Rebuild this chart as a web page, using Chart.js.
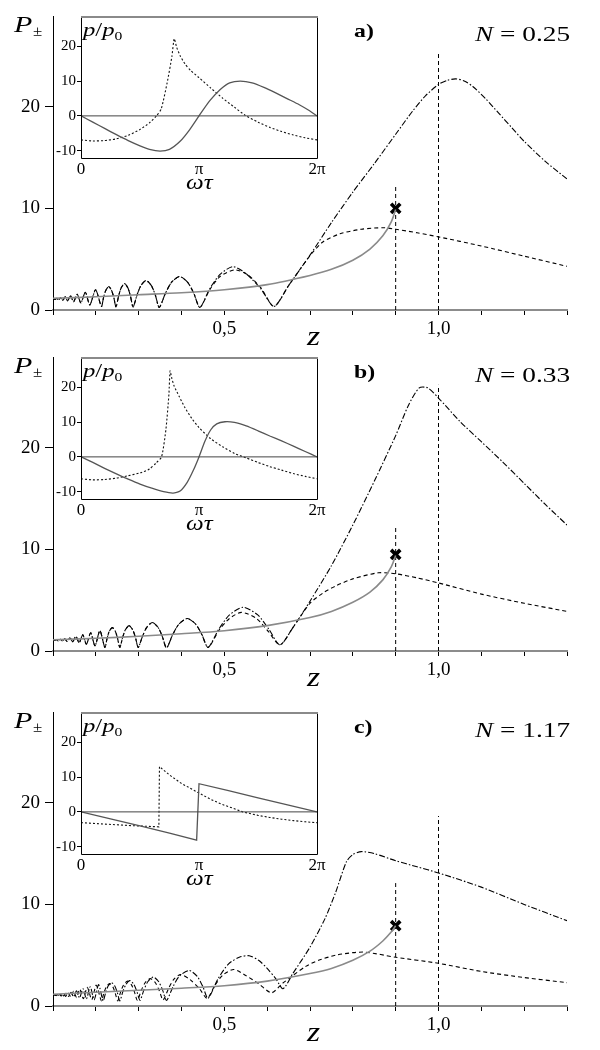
<!DOCTYPE html>
<html><head><meta charset="utf-8">
<script src="https://cdn.jsdelivr.net/npm/chart.js@4.4.1/dist/chart.umd.min.js"></script>
<style>
html,body{margin:0;padding:0;background:#fff;}
#root{position:relative;width:600px;height:1050px;overflow:hidden;background:#fff;}
canvas{position:absolute;}
.lab{position:absolute;color:#000;white-space:nowrap;line-height:1;transform-origin:0 0;}
</style></head><body><div id="root"></div>
<script>
// ---------- axis ticks ----------
const X_TICKS=[0.1,0.2,0.3,0.4,0.5,0.6,0.7,0.8,0.9,1.0,1.1,1.2,1.3];
const X_TICK_TEXT=['','','','','0,5','','','','','1,0','','',''];
const Y_TICKS=[0,10,20];
const Y_TICK_TEXT=['0','10','20'];
const INSET_X_TICKS=[0,1,2];
const INSET_X_TEXT=['0','π','2π'];
const INSET_Y_TICKS=[-10,0,10,20];
const INSET_Y_TEXT=['-10','0','10','20'];
const PANEL_LABELS=['a)','b)','c)'];
const N_VALUES=['0.25','0.33','1.17'];
const CROSS_Z=0.9;
const CROSS_P=[10.0,9.5,7.9];
const V_LINE_Z=[0.9,1.0];
const V_LINE_TOP_A=[12.2,25.2];
const V_LINE_TOP_B=[12.2,26.2];
const V_LINE_TOP_C=[12.1,18.7];

// ---------- panel a (N = 0.25) ----------
const A_DD_Z=[0.100,0.105,0.109,0.113,0.118,0.123,0.1285,0.134,0.141,0.148,0.1565,0.165,0.1755,0.186,0.1995,0.213,
 0.2181,0.2232,0.230,0.2368,0.2419,0.247, 0.253,0.259,0.267,0.275,0.281,0.287,
 0.2962,0.3053,0.3175,0.3297,0.3389,0.348, 0.3623,0.3765,0.3955,0.4145,0.4288,0.443,
 0.466,0.490,0.520,0.550,0.585,0.616,
 0.650,0.700,0.750,0.800,0.850,0.900,0.940,0.970,1.000,1.020,1.040,1.060,1.080,1.110,1.140,1.170,1.200,1.250,1.300];
const A_DD_P=[1.10,1.05,1.15,1.00,1.20,0.95,1.30,0.90,1.40,0.80,1.55,0.70,1.75,0.50,2.00,0.35,
 1.24,1.93,2.30,1.93,1.24,0.30, 1.34,2.16,2.60,2.16,1.34,0.30,
 1.48,2.40,2.90,2.40,1.48,0.25, 1.63,2.72,3.30,2.72,1.63,0.25,
 2.10,3.50,4.27,3.60,2.10,0.35,
 2.40,5.40,8.60,11.60,14.40,17.30,19.60,21.10,22.20,22.60,22.75,22.55,22.00,20.80,19.40,18.00,16.60,14.60,12.90];
const A_DS_Z=[0.100,0.105,0.109,0.113,0.118,0.123,0.1285,0.134,0.141,0.148,0.1565,0.165,0.1755,0.186,0.1995,0.213,
 0.2181,0.2232,0.230,0.2368,0.2419,0.247, 0.253,0.259,0.267,0.275,0.281,0.287,
 0.2962,0.3053,0.3175,0.3297,0.3389,0.348, 0.3623,0.3765,0.3955,0.4145,0.4288,0.443,
 0.466,0.490,0.525,0.555,0.585,0.616,
 0.650,0.700,0.730,0.770,0.820,0.870,0.900,0.950,1.000,1.100,1.200,1.300];
const A_DS_P=[1.10,1.05,1.15,1.00,1.20,0.95,1.30,0.90,1.40,0.80,1.55,0.70,1.75,0.50,2.00,0.35,
 1.24,1.93,2.30,1.93,1.24,0.30, 1.34,2.16,2.60,2.16,1.34,0.30,
 1.48,2.40,2.90,2.40,1.48,0.25, 1.63,2.72,3.30,2.72,1.63,0.25,
 2.00,3.30,3.95,3.45,2.20,0.35,
 2.40,5.35,6.70,7.50,7.95,8.10,7.95,7.60,7.20,6.30,5.30,4.30];
const A_SO_Z=[0.1,0.2,0.3,0.4,0.5,0.6,0.7,0.75,0.8,0.84,0.87,0.89,0.9];
const A_SO_P=[1.15,1.3,1.5,1.7,2.0,2.5,3.4,4.0,4.9,6.0,7.3,8.7,9.9];
const A_IN_SO_T=[0,0.1,0.2,0.3,0.4,0.5,0.58,0.67,0.75,0.84,0.92,1.0,1.09,1.18,1.26,1.35,1.45,1.55,1.65,1.75,1.85,1.93,2.0];
const A_IN_SO_P=[0,-1.8,-3.6,-5.4,-7.1,-8.6,-9.6,-10.1,-9.6,-7.3,-4.0,0,4.3,7.6,9.5,10.0,9.5,8.2,6.6,4.9,3.2,1.6,0];
const A_IN_DT_T=[0,0.1,0.2,0.3,0.4,0.5,0.58,0.64,0.68,0.73,0.77,0.79,0.81,0.84,0.88,0.93,1.0,1.1,1.2,1.3,1.39,1.5,1.6,1.7,1.8,1.9,2.0];
const A_IN_DT_P=[-6.9,-7.2,-7.1,-6.6,-5.6,-3.9,-2.0,0,2.0,9.5,17,22.2,19.8,17.3,15.0,13.0,11.0,8.0,5.1,2.5,0.2,-1.8,-3.3,-4.5,-5.5,-6.3,-6.9];

// ---------- panel b (N = 0.33) ----------
const B_DD_Z=[0.100,0.104,0.108,0.112,0.117,0.122,0.1275,0.133,0.1395,0.146,0.1535,0.161,0.1695,0.178,0.188,0.198,0.2095,0.221,
 0.2263,0.2313,0.2385,0.2457,0.2507,0.256, 0.2625,0.269,0.2775,0.286,0.2925,0.299,
 0.309,0.3188,0.332,0.3452,0.355,0.365, 0.3795,0.394,0.4135,0.433,0.4475,0.462,
 0.487,0.512,0.544,0.578,0.604,0.630,
 0.660,0.700,0.750,0.800,0.850,0.900,0.930,0.955,0.975,1.000,1.050,1.100,1.150,1.200,1.250,1.300];
const B_DD_P=[1.10,1.05,1.12,1.00,1.15,1.00,1.20,0.95,1.30,0.90,1.45,0.80,1.60,0.65,1.80,0.50,2.00,0.35,
 1.24,1.93,2.30,1.93,1.24,0.35, 1.33,2.09,2.50,2.09,1.33,0.35,
 1.46,2.33,2.80,2.33,1.46,0.30, 1.62,2.65,3.20,2.65,1.62,0.35,
 2.14,3.55,4.30,3.55,2.14,0.60,
 2.30,4.90,8.40,12.40,16.70,21.20,24.20,25.90,25.90,24.90,22.60,20.60,18.60,16.50,14.40,12.40];
const B_DS_Z=[0.100,0.104,0.108,0.112,0.117,0.122,0.1275,0.133,0.1395,0.146,0.1535,0.161,0.1695,0.178,0.188,0.198,0.2095,0.221,
 0.2263,0.2313,0.2385,0.2457,0.2507,0.256, 0.2625,0.269,0.2775,0.286,0.2925,0.299,
 0.309,0.3188,0.332,0.3452,0.355,0.365, 0.3795,0.394,0.4135,0.433,0.4475,0.462,
 0.487,0.512,0.540,0.575,0.603,0.630,
 0.660,0.700,0.730,0.760,0.800,0.860,0.900,0.950,1.000,1.100,1.200,1.300];
const B_DS_P=[1.10,1.05,1.12,1.00,1.15,1.00,1.20,0.95,1.30,0.90,1.45,0.80,1.60,0.65,1.80,0.50,2.00,0.35,
 1.24,1.93,2.30,1.93,1.24,0.35, 1.33,2.09,2.50,2.09,1.33,0.35,
 1.46,2.33,2.80,2.33,1.46,0.30, 1.62,2.65,3.20,2.65,1.62,0.35,
 2.00,3.20,3.80,3.20,1.90,0.60,
 2.30,4.70,5.70,6.40,7.10,7.70,7.60,7.20,6.70,5.60,4.70,3.90];
const B_SO_Z=[0.1,0.2,0.3,0.4,0.5,0.6,0.7,0.75,0.8,0.84,0.87,0.89,0.9];
const B_SO_P=[1.1,1.25,1.45,1.7,2.0,2.5,3.3,3.9,4.8,5.8,7.0,8.3,9.4];
const B_IN_SO_T=[0,0.1,0.2,0.3,0.4,0.5,0.6,0.7,0.78,0.84,0.9,0.95,1.0,1.05,1.1,1.15,1.22,1.3,1.4,1.5,1.6,1.7,1.8,1.9,2.0];
const B_IN_SO_P=[0,-1.6,-3.3,-4.9,-6.4,-7.8,-9.0,-10.0,-10.4,-9.8,-7.3,-4.0,0,4.5,7.8,9.5,10.1,9.9,8.9,7.5,6.0,4.6,3.1,1.55,0];
const B_IN_DT_T=[0,0.1,0.2,0.3,0.4,0.5,0.58,0.635,0.683,0.72,0.745,0.755,0.77,0.79,0.83,0.88,0.94,1.0,1.1,1.2,1.3,1.4,1.5,1.6,1.7,1.8,1.9,2.0];
const B_IN_DT_P=[-6.3,-6.6,-6.5,-6.1,-5.4,-4.6,-3.5,-1.8,0,8,18,24.7,22.5,20.3,17.5,14.2,11.0,8.4,5.2,2.9,1.0,-0.3,-1.6,-2.8,-3.8,-4.8,-5.6,-6.3];

// ---------- panel c (N = 1.17) ----------
const C_DD_Z=[0.100,0.106,0.110,0.115,0.120,0.125,0.130,0.136,0.142,0.148,0.155,0.162,0.170,0.178,0.187,0.196,0.2065,0.217,
 0.2229,0.2287,0.2365,0.2443,0.2501,0.256, 0.263,0.2702,0.2795,0.2888,0.296,0.303,
 0.3123,0.3216,0.334,0.3464,0.3557,0.365, 0.380,0.395,0.418,0.437,0.450,0.462,
 0.485,0.510,0.535,0.558,0.580,0.600,0.620,0.637,
 0.660,0.700,0.735,0.760,0.785,0.800,0.820,0.850,0.900,0.950,1.000,1.100,1.200,1.300];
const C_DD_P=[1.10,1.05,1.12,1.00,1.18,1.00,1.25,0.95,1.35,0.90,1.50,0.80,1.70,0.70,1.90,0.60,2.10,0.50,
 1.32,1.96,2.30,1.96,1.32,0.50, 1.41,2.12,2.50,2.12,1.41,0.55,
 1.59,2.41,2.85,2.41,1.59,0.55, 1.89,2.94,3.50,2.90,1.90,0.75,
 2.66,4.15,4.80,4.95,4.50,3.70,2.70,1.70,
 3.20,5.80,8.60,11.20,14.20,14.90,15.20,15.00,14.30,13.70,13.10,11.70,10.00,8.40];
const C_DS_Z=[0.100,0.105,0.109,0.114,0.119,0.124,0.1295,0.135,0.1415,0.148,0.155,0.1625,0.171,0.180,0.1905,0.201,0.213,
 0.2187,0.2243,0.232,0.2397,0.2453,0.251, 0.2579,0.2648,0.274,0.2832,0.2901,0.297,
 0.306,0.315,0.327,0.339,0.348,0.357, 0.370,0.382,0.398,0.420,0.442,0.460,
 0.478,0.497,0.522,0.550,0.580,0.610,
 0.635,0.660,0.690,0.720,0.760,0.800,0.830,0.900,1.000,1.100,1.200,1.300];
const C_DS_P=[1.10,1.12,1.02,1.15,0.98,1.22,0.95,1.30,0.90,1.45,0.82,1.65,0.72,1.85,0.62,2.05,0.50,
 1.27,1.88,2.20,1.88,1.27,0.50, 1.39,2.08,2.45,2.08,1.39,0.55,
 1.53,2.29,2.70,2.29,1.53,0.60, 1.74,2.62,3.10,2.60,1.70,0.75,
 2.04,3.06,3.60,3.00,2.20,1.30,
 2.20,3.00,3.90,4.50,5.00,5.25,5.30,4.80,4.20,3.40,2.80,2.30];
const C_SO_Z=[0.1,0.2,0.3,0.4,0.5,0.6,0.7,0.75,0.8,0.84,0.87,0.89,0.9];
const C_SO_P=[1.15,1.35,1.55,1.75,2.0,2.45,3.2,3.7,4.5,5.4,6.4,7.3,7.9];
const C_IN_SO_T=[0,0.25,0.5,0.75,0.98,1.0,1.25,1.5,1.75,2.0];
const C_IN_SO_P=[0,-2.0,-4.0,-6.1,-8.1,8.1,6.1,4.05,2.0,0];
const C_IN_DT_T=[0,0.2,0.4,0.66,0.665,0.75,0.85,1.0,1.1,1.2,1.3,1.37,1.5,1.6,1.7,1.8,1.9,2.0];
const C_IN_DT_P=[-3.1,-3.5,-3.9,-4.3,13.0,10.6,8.2,5.4,3.6,2.1,0.9,0,-1.0,-1.6,-2.1,-2.5,-2.85,-3.1];

// ---------- drawing ----------
const SERIF="'Liberation Serif','Times New Roman',serif";
const PANEL_TOP=[0,341,696];
const root=document.getElementById('root');
function pts(xs,ys){return xs.map((x,i)=>({x:x,y:ys[i]}));}
function addCanvas(left,top,w,h){const c=document.createElement('canvas');c.width=w;c.height=h;c.style.left=left+'px';c.style.top=top+'px';c.style.width=w+'px';c.style.height=h+'px';root.appendChild(c);return c;}
function addLabel(html,left,top,size,sx,extra){const d=document.createElement('div');d.className='lab';d.innerHTML=html;d.style.fontFamily=SERIF;d.style.left=left+'px';d.style.top=top+'px';d.style.fontSize=size+'px';d.style.transform='scaleX('+sx+')';if(extra)Object.assign(d.style,extra);root.appendChild(d);return d;}

const insetBox={id:'insetBox',
  beforeDraw(chart){const a=chart.chartArea,ctx=chart.ctx;ctx.save();ctx.fillStyle='#fff';ctx.fillRect(a.left,a.top,a.right-a.left,a.bottom-a.top);ctx.restore();},
  afterDraw(chart){const a=chart.chartArea,ctx=chart.ctx;ctx.save();
    ctx.strokeStyle='#000';ctx.lineWidth=1;
    ctx.beginPath();ctx.moveTo(a.left+0.5,a.top);ctx.lineTo(a.left+0.5,a.bottom+0.5);ctx.lineTo(a.right+0.5,a.bottom+0.5);ctx.lineTo(a.right+0.5,a.top);ctx.stroke();
    ctx.strokeStyle='#8a8a8a';ctx.lineWidth=2;ctx.beginPath();ctx.moveTo(a.left,a.top+1);ctx.lineTo(a.right+1,a.top+1);ctx.stroke();
    ctx.restore();}};

function mainChart(cv,p){
  const vl=(k)=>({data:[{x:V_LINE_Z[k],y:0},{x:V_LINE_Z[k],y:p.vTop[k]}],borderColor:'#000',borderWidth:1,borderDash:[4,3],pointRadius:0,tension:0});
  return new Chart(cv,{type:'line',data:{datasets:[
    {data:pts(p.soZ,p.soP),borderColor:'#8a8a8a',borderWidth:1.6,pointRadius:0,tension:0.3},
    {data:pts(p.ddZ,p.ddP),borderColor:'#000',borderWidth:1.1,borderDash:[6,2,1.5,2],pointRadius:0,tension:0.25},
    {data:pts(p.dsZ,p.dsP),borderColor:'#000',borderWidth:1.1,borderDash:[4,3],pointRadius:0,tension:0.25},
    vl(0),vl(1),
    {data:[{x:CROSS_Z,y:p.cross}],showLine:false,pointStyle:'crossRot',pointRadius:6.5,pointBorderWidth:3.6,pointBorderColor:'#000',borderColor:'#000',pointBackgroundColor:'#000'}
  ]},
  options:{responsive:false,animation:false,events:[],
    layout:{padding:{left:0,right:33,top:12,bottom:0}},
    plugins:{legend:{display:false},tooltip:{enabled:false}},
    scales:{
      x:{type:'linear',min:0.1,max:1.3,
        afterBuildTicks:s=>{s.ticks=X_TICKS.map(v=>({value:v}));},
        afterFit:s=>{s.height=30;},
        ticks:{autoSkip:false,maxRotation:0,minRotation:0,padding:3,color:'#000',font:{family:SERIF,size:19},callback:(v,i)=>X_TICK_TEXT[i]},
        grid:{display:true,drawOnChartArea:false,drawTicks:true,tickLength:5,tickColor:'#000',tickWidth:1,color:'#000'},
        border:{display:true,color:'#8c8c8c',width:2}},
      y:{type:'linear',min:0,max:28.9,
        afterBuildTicks:s=>{s.ticks=Y_TICKS.map(v=>({value:v}));},
        afterFit:s=>{s.width=53;},
        ticks:{autoSkip:false,padding:5,color:'#000',font:{family:SERIF,size:19},callback:(v,i)=>Y_TICK_TEXT[i]},
        grid:{display:true,drawOnChartArea:false,drawTicks:true,tickLength:8,tickColor:'#000',tickWidth:1,color:'#000'},
        border:{display:true,color:'#000',width:1}}
    }}});
}

function insetChart(cv,p){
  return new Chart(cv,{type:'line',data:{datasets:[
    {data:[{x:0,y:0},{x:2,y:0}],borderColor:'#444',borderWidth:1,pointRadius:0,tension:0},
    {data:pts(p.soT,p.soP),borderColor:'#555',borderWidth:1.3,pointRadius:0,tension:p.ten},
    {data:pts(p.dtT,p.dtP),borderColor:'#111',borderWidth:1.1,borderDash:[2,2],pointRadius:0,tension:p.ten}
  ]},
  plugins:[insetBox],
  options:{responsive:false,animation:false,events:[],
    layout:{padding:{left:0,right:13,top:16,bottom:0}},
    plugins:{legend:{display:false},tooltip:{enabled:false}},
    scales:{
      x:{type:'linear',min:0,max:2,
        afterBuildTicks:s=>{s.ticks=INSET_X_TICKS.map(v=>({value:v}));},
        afterFit:s=>{s.height=42;},
        ticks:{autoSkip:false,maxRotation:0,minRotation:0,padding:1,color:'#000',font:{family:SERIF,size:17},callback:(v,i)=>INSET_X_TEXT[i]},
        grid:{display:false,drawTicks:false},border:{display:false}},
      y:{type:'linear',min:-12.1,max:28.7,
        afterBuildTicks:s=>{s.ticks=INSET_Y_TICKS.map(v=>({value:v}));},
        afterFit:s=>{s.width=51;},
        ticks:{autoSkip:false,padding:1,color:'#000',font:{family:SERIF,size:15},callback:(v,i)=>INSET_Y_TEXT[i]},
        grid:{display:true,drawOnChartArea:false,drawTicks:true,tickLength:4,tickColor:'#000',tickWidth:1,color:'#000'},
        border:{display:false}}
    }}});
}

const PANELS=[
 {ddZ:A_DD_Z,ddP:A_DD_P,dsZ:A_DS_Z,dsP:A_DS_P,soZ:A_SO_Z,soP:A_SO_P,vTop:V_LINE_TOP_A,cross:CROSS_P[0],
  inset:{soT:A_IN_SO_T,soP:A_IN_SO_P,dtT:A_IN_DT_T,dtP:A_IN_DT_P,ten:0.2}},
 {ddZ:B_DD_Z,ddP:B_DD_P,dsZ:B_DS_Z,dsP:B_DS_P,soZ:B_SO_Z,soP:B_SO_P,vTop:V_LINE_TOP_B,cross:CROSS_P[1],
  inset:{soT:B_IN_SO_T,soP:B_IN_SO_P,dtT:B_IN_DT_T,dtP:B_IN_DT_P,ten:0.2}},
 {ddZ:C_DD_Z,ddP:C_DD_P,dsZ:C_DS_Z,dsP:C_DS_P,soZ:C_SO_Z,soP:C_SO_P,vTop:V_LINE_TOP_C,cross:CROSS_P[2],
  inset:{soT:C_IN_SO_T,soP:C_IN_SO_P,dtT:C_IN_DT_T,dtP:C_IN_DT_P,ten:0}}
];

PANELS.forEach((p,k)=>{
  const t=PANEL_TOP[k];
  mainChart(addCanvas(0,t,600,340),p);
  insetChart(addCanvas(30,t,300,200),p.inset);
});
PANELS.forEach((p,k)=>{
  const t=PANEL_TOP[k];
  addLabel('<i>P</i>',14,t+12,24,1.25);
  addLabel('±',33,t+25,14,1.2);
  addLabel('<b>'+PANEL_LABELS[k]+'</b>',354,t+21,19,1.25);
  addLabel('<i>N</i> = '+N_VALUES[k],475,t+24,21,1.3);
  addLabel('<i>z</i>',307,t+322,28,1.2);
  addLabel('<i>p</i>/<i>p</i><span style="font-size:12px;position:relative;top:4px">0</span>',83,t+20,19,1.3);
  addLabel('<i>ωτ</i>',186,t+172,20,1.25);
});
</script></body></html>
